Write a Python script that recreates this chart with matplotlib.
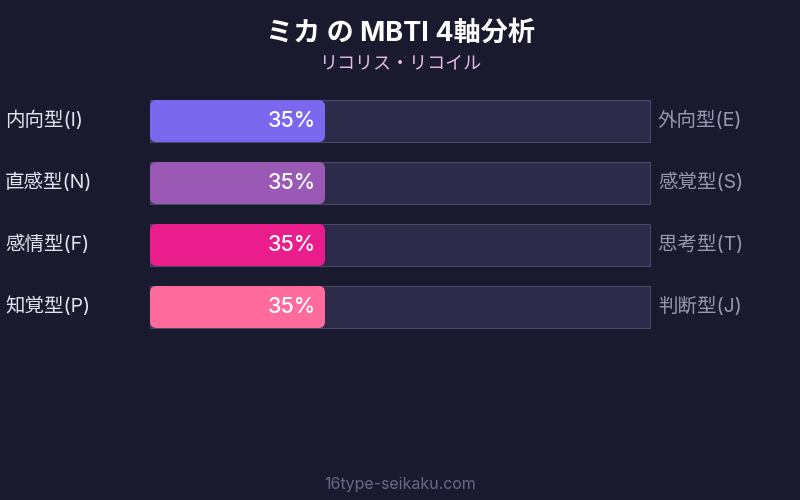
import matplotlib.pyplot as plt
from matplotlib.patches import FancyBboxPatch, Rectangle

plt.rcParams['font.family'] = ['Inter', 'Noto Sans CJK JP', 'DejaVu Sans']

# data
left_labels = ['内向型(I)', '直感型(N)', '感情型(F)', '知覚型(P)']
right_labels = ['外向型(E)', '感覚型(S)', '思考型(T)', '判断型(J)']
scores = [35, 35, 35, 35]
bar_colors = ['#7b68ee', '#9b59b6', '#e91e8c', '#ff6b9d']

title = 'ミカ の MBTI 4軸分析'
subtitle = 'リコリス・リコイル'
footer = '16type-seikaku.com'

bg = '#1a1a2e'
track = '#2d2b4a'
track_edge = '#4a4868'

fig = plt.figure(figsize=(8, 5), dpi=100, facecolor=bg)

# bar area: x 150..650 px, rows 62 px apart, bars 42 px tall
ax = fig.add_axes([150 / 800, 1 - 328 / 500, 500 / 800, 228 / 500])
ax.set_facecolor(bg)
half = 21 / 62
ax.set_xlim(0, 100)
ax.set_ylim(len(scores) - 1 + half, -half)
ax.axis('off')

h = 42 / 62
for i, (v, c) in enumerate(zip(scores, bar_colors)):
    ax.add_patch(Rectangle((0, i - h / 2), 100, h, facecolor=track,
                           edgecolor=track_edge, linewidth=0.8, clip_on=False))
    ax.add_patch(FancyBboxPatch((0, i - h / 2), v, h,
                                boxstyle='round,pad=0,rounding_size=1.3',
                                mutation_aspect=5 / 62, clip_on=False,
                                facecolor=c, edgecolor='none'))
    ax.text(v - 1.8, i, f'{v}%', color='white', fontsize=15.5,
            ha='right', va='center', fontweight='medium')

# side labels in figure pixels
for i, (l, r) in enumerate(zip(left_labels, right_labels)):
    y = 1 - (120 + 62 * i) / 500
    fig.text(5 / 800, y, l, color='#e4e4f0', fontsize=14, ha='left', va='center')
    fig.text(658 / 800, y, r, color='#9a98b0', fontsize=14, ha='left', va='center')

fig.text(0.5, 1 - 34 / 500, title, color='white', fontsize=19.5,
         fontweight='bold', ha='center', va='center')
fig.text(0.5, 1 - 64 / 500, subtitle, color='#e8b8e8', fontsize=13,
         ha='center', va='center')
fig.text(0.5, 1 - 485 / 500, footer, color='#6a6888', fontsize=11.5,
         ha='center', va='center')

fig.savefig('out.png', dpi=100, facecolor=bg)
